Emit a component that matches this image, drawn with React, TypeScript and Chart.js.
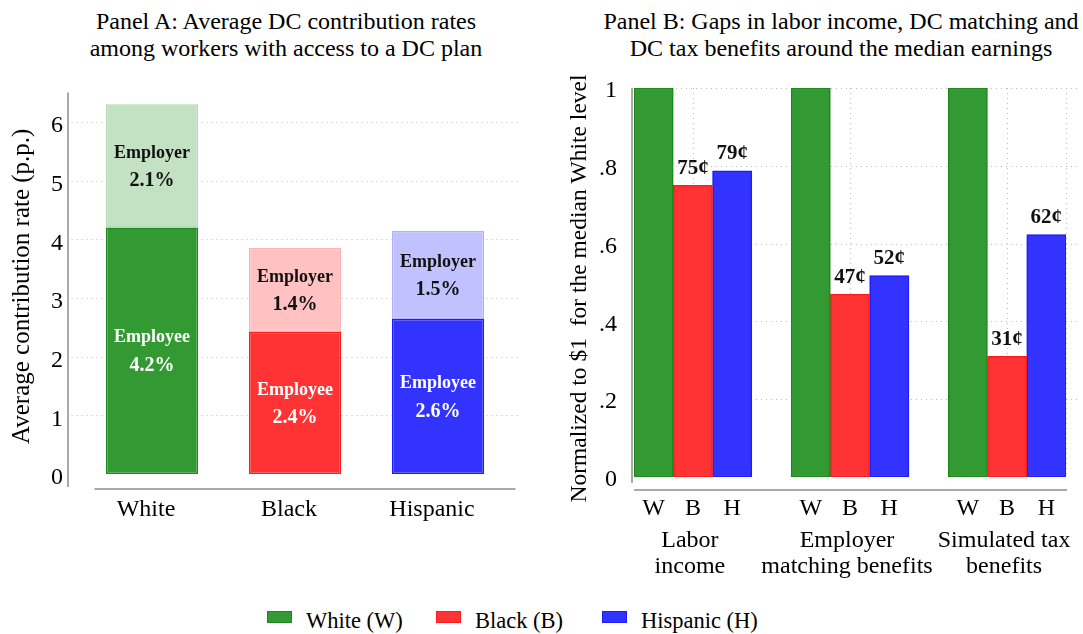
import React, { useEffect, useRef } from "react";
import { Chart, registerables } from "chart.js";

Chart.register(...registerables);

// ---------- Panel A data ----------
const raceNames = ["White", "Black", "Hispanic"];
const employeeRates = [4.2, 2.42, 2.64];
const employerRates = [2.1, 1.43, 1.5];
const panelATicks = [0, 1, 2, 3, 4, 5, 6];

// ---------- Panel B data ----------
const gapGroups = [
  ["Labor", "income"],
  ["Employer", "matching benefits"],
  ["Simulated tax", "benefits"],
];
const raceCodes = ["W", "B", "H"];
const whiteLevels = [1, 1, 1];
const blackLevels = [0.75, 0.47, 0.31];
const hispanicLevels = [0.787, 0.518, 0.623];
const panelBTicks = [0, 0.2, 0.4, 0.6, 0.8, 1];
const panelBTitle = "Normalized to $1  for the median White level";
const legendLabels = ["White (W)", "Black (B)", "Hispanic (H)"];

// ---------- styles ----------
const SERIF = "'Liberation Serif', 'Times New Roman', serif";
const dark = ["#339933", "#ff3333", "#3333ff"];
const darkBorder = ["#1b8a1b", "#ff1c1c", "#1c1cff"];
const light = ["#c3e2c3", "#ffc1c1", "#c1c1ff"];
const lightBorder = ["#b3dab3", "#ffb0b0", "#b0b0ff"];
const GRID = "#bdbdbd";
const AXIS = "#a9a9a9";

const CANVAS_H = 520;
const CANVAS_TOP = 70;

function dotted(ctx: CanvasRenderingContext2D) {
  ctx.strokeStyle = GRID;
  ctx.lineWidth = 1;
  ctx.setLineDash([1, 4]);
}

function noScalePadding(s: any) {
  s.paddingTop = 0;
  s.paddingBottom = 0;
  s.paddingLeft = 0;
  s.paddingRight = 0;
}

// ---------- Panel A ----------
const panelAPlugin = {
  id: "panelADecor",
  beforeDatasetsDraw(chart: any) {
    const { ctx, chartArea } = chart;
    const y = chart.scales.y;
    ctx.save();
    dotted(ctx);
    panelATicks.forEach((v) => {
      if (v === 0) return;
      const py = Math.round(y.getPixelForValue(v)) + 0.5;
      ctx.beginPath();
      ctx.moveTo(chartArea.left - 9, py);
      ctx.lineTo(chartArea.right + 11, py);
      ctx.stroke();
    });
    ctx.restore();
  },
  afterDatasetsDraw(chart: any) {
    const { ctx, chartArea } = chart;
    ctx.save();
    // axis lines (offset, Stata style)
    ctx.strokeStyle = AXIS;
    ctx.lineWidth = 2;
    ctx.beginPath();
    ctx.moveTo(chartArea.left - 12.5, chartArea.top - 6);
    ctx.lineTo(chartArea.left - 12.5, chartArea.bottom + 13);
    ctx.stroke();
    ctx.beginPath();
    ctx.moveTo(chartArea.left + 14, chartArea.bottom + 15);
    ctx.lineTo(chartArea.right + 6, chartArea.bottom + 15);
    ctx.stroke();

    // in-bar labels
    ctx.textAlign = "center";
    ctx.textBaseline = "middle";
    const names = ["Employee", "Employer"];
    const values = [employeeRates, employerRates];
    [0, 1].forEach((d) => {
      const meta = chart.getDatasetMeta(d);
      meta.data.forEach((el: any, j: number) => {
        const mid = (el.y + el.base) / 2;
        ctx.fillStyle = d === 0 ? "#ffffff" : "#111111";
        ctx.font = `bold 18px ${SERIF}`;
        ctx.fillText(names[d], el.x, mid - 13);
        ctx.font = `bold 20px ${SERIF}`;
        ctx.fillText(values[d][j].toFixed(1) + "%", el.x, mid + 15);
      });
    });
    ctx.restore();
  },
};

function panelAConfig(): any {
  return {
    type: "bar",
    data: {
      labels: raceNames,
      datasets: [
        {
          label: "Employee",
          data: employeeRates,
          backgroundColor: dark,
          borderColor: darkBorder,
          borderWidth: 1.5,
          borderSkipped: false,
        },
        {
          label: "Employer",
          data: employerRates,
          backgroundColor: light,
          borderColor: lightBorder,
          borderWidth: 1.5,
          borderSkipped: false,
        },
      ],
    },
    options: {
      responsive: false,
      animation: false,
      devicePixelRatio: 1,
      layout: { padding: { left: 0, right: 31.5, top: 28.5, bottom: 0 } },
      datasets: { bar: { categoryPercentage: 1, barPercentage: 0.645 } },
      plugins: { legend: { display: false }, tooltip: { enabled: false } },
      scales: {
        x: {
          stacked: true,
          grid: { display: false, drawTicks: false },
          border: { display: false },
          ticks: {
            color: "#000",
            font: { family: SERIF, size: 24 },
            padding: 21,
            labelOffset: -6,
          },
          afterFit: (s: any) => {
            s.height = CANVAS_H - 404;
            noScalePadding(s);
          },
        },
        y: {
          stacked: true,
          min: 0,
          max: 6.4,
          afterBuildTicks: (s: any) => {
            s.ticks = panelATicks.map((v) => ({ value: v }));
          },
          grid: { display: false, drawTicks: false },
          border: { display: false },
          ticks: {
            color: "#000",
            font: { family: SERIF, size: 24 },
            padding: 17.5,
            labelOffset: 4,
          },
          title: {
            display: true,
            text: "Average contribution rate (p.p.)",
            color: "#000",
            font: { family: SERIF, size: 25 },
            padding: { top: 7, bottom: 0 },
          },
          afterFit: (s: any) => {
            s.width = 80.5;
            noScalePadding(s);
          },
        },
      },
    },
    plugins: [panelAPlugin],
  };
}

// ---------- Panel B ----------
const slotsPerGroup = raceCodes.length + 1;
const slotLabels: string[] = [];
gapGroups.forEach((_, gi) => {
  raceCodes.forEach((c) => slotLabels.push(c));
  if (gi < gapGroups.length - 1) slotLabels.push("");
});
const slotIndex = (gi: number, ri: number) => gi * slotsPerGroup + ri;
function toSlots(values: number[], raceIdx: number) {
  const out: (number | null)[] = [];
  gapGroups.forEach((_, gi) => {
    raceCodes.forEach((__, ri) => out.push(ri === raceIdx ? values[gi] : null));
    if (gi < gapGroups.length - 1) out.push(null);
  });
  return out;
}

const panelBPlugin = {
  id: "panelBDecor",
  beforeDatasetsDraw(chart: any) {
    const { ctx, chartArea } = chart;
    const y = chart.scales.y;
    const x = chart.scales.x;
    ctx.save();
    dotted(ctx);
    panelBTicks.forEach((v) => {
      if (v === 0) return;
      const py = Math.round(y.getPixelForValue(v)) + 0.5;
      ctx.beginPath();
      ctx.moveTo(chartArea.left + 2, py);
      ctx.lineTo(chartArea.right + 12, py);
      ctx.stroke();
    });
    const vx: number[] = gapGroups.map((_, gi) => x.getPixelForValue(slotIndex(gi, 1)));
    vx.push(chartArea.right);
    vx.forEach((px) => {
      const p = Math.round(px) + 0.5;
      ctx.beginPath();
      ctx.moveTo(p, chartArea.top);
      ctx.lineTo(p, chartArea.bottom);
      ctx.stroke();
    });
    ctx.restore();
  },
  afterDatasetsDraw(chart: any) {
    const { ctx, chartArea } = chart;
    const x = chart.scales.x;
    ctx.save();
    ctx.strokeStyle = AXIS;
    ctx.lineWidth = 2;
    ctx.beginPath();
    ctx.moveTo(chartArea.left - 2, chartArea.top);
    ctx.lineTo(chartArea.left - 2, chartArea.bottom + 6);
    ctx.stroke();
    ctx.beginPath();
    ctx.moveTo(chartArea.left, chartArea.bottom + 13);
    ctx.lineTo(chartArea.right + 1, chartArea.bottom + 13);
    ctx.stroke();

    // value labels above Black / Hispanic bars
    ctx.textAlign = "center";
    ctx.textBaseline = "middle";
    ctx.fillStyle = "#111";
    ctx.font = `bold 21px ${SERIF}`;
    const series = [whiteLevels, blackLevels, hispanicLevels];
    [1, 2].forEach((ri) => {
      const meta = chart.getDatasetMeta(ri);
      gapGroups.forEach((_, gi) => {
        const el: any = meta.data[slotIndex(gi, ri)];
        if (!el) return;
        ctx.fillText(Math.round(series[ri][gi] * 100) + "¢", el.x, el.y - 17);
      });
    });

    // group labels
    ctx.fillStyle = "#000";
    ctx.font = `24px ${SERIF}`;
    gapGroups.forEach((lines, gi) => {
      const px = x.getPixelForValue(slotIndex(gi, 1)) - 3;
      lines.forEach((t, li) => {
        ctx.fillText(t, px, chartArea.bottom + 64 + li * 26);
      });
    });

    // y-axis title (drawn here so it is not squeezed to the plot height)
    ctx.save();
    ctx.translate(39, (chartArea.top + chartArea.bottom) / 2 + 6);
    ctx.rotate(-Math.PI / 2);
    ctx.font = `23.5px ${SERIF}`;
    ctx.fillText(panelBTitle, 0, 0);
    ctx.restore();
    ctx.restore();
  },
};

function panelBConfig(): any {
  const series = [whiteLevels, blackLevels, hispanicLevels];
  return {
    type: "bar",
    data: {
      labels: slotLabels,
      datasets: series.map((vals, ri) => ({
        label: legendLabels[ri],
        data: toSlots(vals, ri),
        backgroundColor: dark[ri],
        borderColor: darkBorder[ri],
        borderWidth: 1.5,
        borderSkipped: false,
      })),
    },
    options: {
      responsive: false,
      animation: false,
      devicePixelRatio: 1,
      layout: { padding: { left: 0, right: 17, top: 18, bottom: 0 } },
      datasets: { bar: { categoryPercentage: 1, barPercentage: 1 } },
      plugins: { legend: { display: false }, tooltip: { enabled: false } },
      scales: {
        x: {
          stacked: true,
          grid: { display: false, drawTicks: false },
          border: { display: false },
          ticks: {
            color: "#000",
            font: { family: SERIF, size: 24 },
            padding: 17,
            autoSkip: false,
            maxRotation: 0,
          },
          afterFit: (s: any) => {
            s.height = CANVAS_H - 407;
            noScalePadding(s);
          },
        },
        y: {
          stacked: true,
          min: 0,
          max: 1,
          afterBuildTicks: (s: any) => {
            s.ticks = panelBTicks.map((v) => ({ value: v }));
          },
          grid: { display: false, drawTicks: false },
          border: { display: false },
          ticks: {
            color: "#000",
            font: { family: SERIF, size: 24 },
            padding: 17,
            labelOffset: 3,
            callback: (v: number) =>
              v === 0 ? "0" : v === 1 ? "1" : String(Math.round(v * 10) / 10).replace(/^0/, ""),
          },
          afterFit: (s: any) => {
            s.width = 93;
            noScalePadding(s);
          },
        },
      },
    },
    plugins: [panelBPlugin],
  };
}

function ChartCanvas(props: { make: () => any; left: number; width: number }) {
  const ref = useRef<HTMLCanvasElement | null>(null);
  useEffect(() => {
    if (!ref.current) return;
    const chart = new Chart(ref.current, props.make());
    return () => chart.destroy();
  }, []);
  return (
    <canvas
      ref={ref}
      width={props.width}
      height={CANVAS_H}
      style={{
        position: "absolute",
        left: props.left,
        top: CANVAS_TOP,
        width: props.width,
        height: CANVAS_H,
      }}
    />
  );
}

const titleStyle: React.CSSProperties = {
  position: "absolute",
  top: 8,
  fontFamily: SERIF,
  fontSize: 24,
  lineHeight: "27px",
  textAlign: "center",
  color: "#000",
  whiteSpace: "nowrap",
};

const legendBoxLeft = [267, 436, 602];

export default function App() {
  return (
    <div
      style={{
        position: "absolute",
        left: 0,
        top: 0,
        width: 1083,
        height: 634,
        background: "#fff",
        overflow: "hidden",
      }}
    >
      <div style={{ ...titleStyle, left: 86, width: 400 }}>
        Panel A: Average DC contribution rates
        <br />
        among workers with access to a DC plan
      </div>
      <div style={{ ...titleStyle, left: 600, width: 482 }}>
        Panel B: Gaps in labor income, DC matching and
        <br />
        DC tax benefits around the median earnings
      </div>
      <ChartCanvas make={panelAConfig} left={0} width={541} />
      <ChartCanvas make={panelBConfig} left={541} width={542} />
      {legendLabels.map((t, i) => (
        <React.Fragment key={t}>
          <div
            style={{
              position: "absolute",
              left: legendBoxLeft[i],
              top: 611,
              width: 23,
              height: 10,
              background: dark[i],
              border: `1px solid ${darkBorder[i]}`,
            }}
          />
          <div
            style={{
              position: "absolute",
              left: legendBoxLeft[i] + 39,
              top: 607,
              fontFamily: SERIF,
              fontSize: 22.5,
              lineHeight: "28px",
              color: "#000",
              whiteSpace: "nowrap",
            }}
          >
            {t}
          </div>
        </React.Fragment>
      ))}
    </div>
  );
}
